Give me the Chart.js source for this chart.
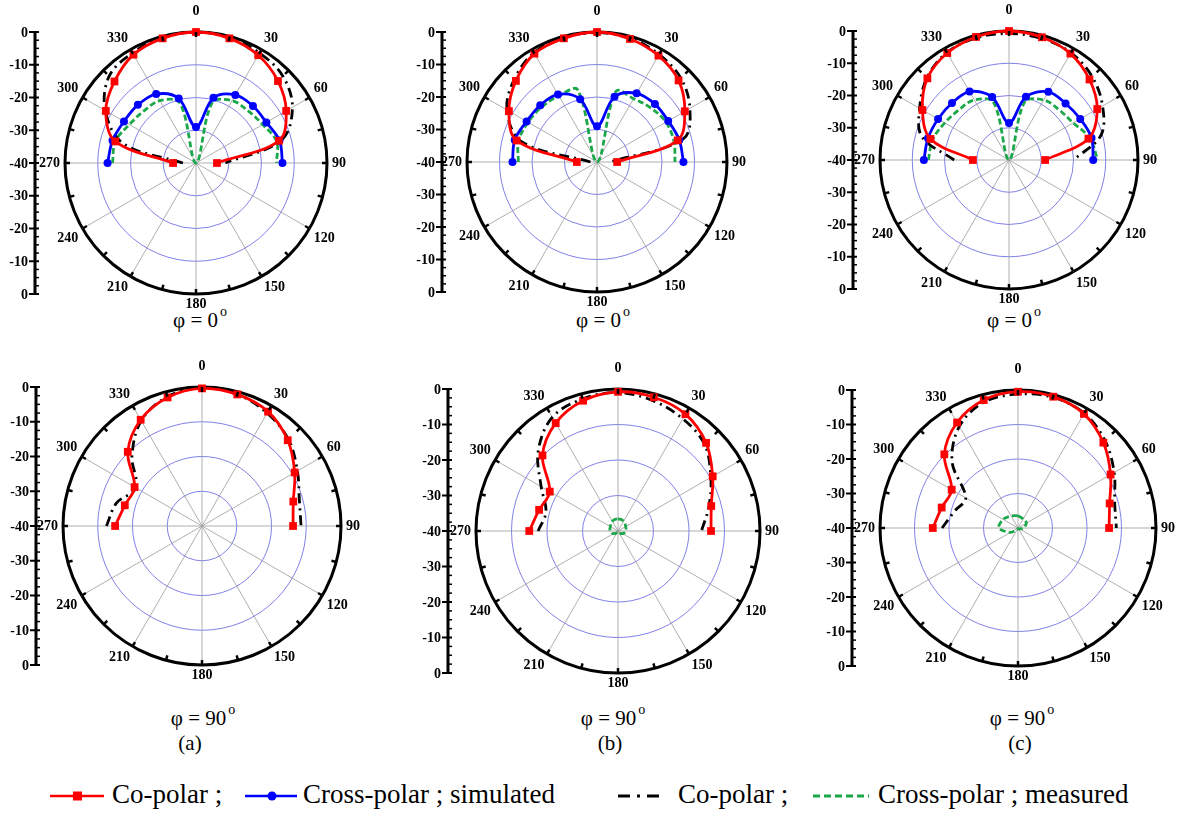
<!DOCTYPE html>
<html>
<head>
<meta charset="utf-8">
<title>Radiation patterns</title>
<script src="https://cdn.jsdelivr.net/npm/chart.js@4.4.1/dist/chart.umd.min.js"></script>
<style>
  body { margin: 0; background: #fff; }
  #wrap { position: relative; width: 1180px; height: 814px; overflow: hidden; font-family: "Liberation Serif", "Times New Roman", Times, serif; color: #000; }
  #wrap canvas { position: absolute; }
  .cap { position: absolute; font-size: 21px; line-height: 24px; transform: translateX(-50%); white-space: nowrap; }
  .cap sup { font-size: 14px; position: relative; top: -3px; margin-left: 2px; }
  .leg { position: absolute; top: 781px; font-size: 27px; line-height: 27px; white-space: nowrap; }
  .legsvg { position: absolute; top: 788px; }
</style>
</head>
<body>
<div id="wrap">
  <div class="cap" style="left:200px;top:303px">φ = 0<sup>o</sup></div>
  <div class="cap" style="left:603px;top:303px">φ = 0<sup>o</sup></div>
  <div class="cap" style="left:1014px;top:303px">φ = 0<sup>o</sup></div>
  <div class="cap" style="left:203px;top:701px">φ = 90<sup>o</sup></div>
  <div class="cap" style="left:613px;top:701px">φ = 90<sup>o</sup></div>
  <div class="cap" style="left:1022px;top:701px">φ = 90<sup>o</sup></div>
  <div class="cap" style="left:190px;top:731px">(a)</div>
  <div class="cap" style="left:610px;top:731px">(b)</div>
  <div class="cap" style="left:1020px;top:731px">(c)</div>

  <svg class="legsvg" style="left:50px" width="54" height="16"><line x1="0" y1="8" x2="54" y2="8" stroke="#ff0000" stroke-width="2.5"/><rect x="23" y="3.5" width="9" height="9" fill="#ff0000"/></svg>
  <div class="leg" style="left:112px">Co-polar ;</div>
  <svg class="legsvg" style="left:245px" width="52" height="16"><line x1="0" y1="8" x2="52" y2="8" stroke="#0000ff" stroke-width="2.5"/><circle cx="27" cy="8" r="4.5" fill="#0000ff"/></svg>
  <div class="leg" style="left:303px">Cross-polar ; simulated</div>
  <svg class="legsvg" style="left:618px" width="48" height="16"><line x1="0" y1="8" x2="48" y2="8" stroke="#000" stroke-width="3" stroke-dasharray="12,7,3,7"/></svg>
  <div class="leg" style="left:678px">Co-polar ;</div>
  <svg class="legsvg" style="left:813px" width="56" height="16"><line x1="0" y1="8" x2="56" y2="8" stroke="#1aa84a" stroke-width="3" stroke-dasharray="7,4"/></svg>
  <div class="leg" style="left:878px">Cross-polar ; measured</div>
</div>
<script>
// angular categories of the radar scale (degrees)
const angleLabels = [0, 15, 30, 45, 60, 75, 90, 105, 120, 135, 150, 165,
                     180, 195, 210, 225, 240, 255, 270, 285, 300, 315, 330, 345];
// front half (270 -> 0 -> 90) used by most curves
const frontAngles = [270, 285, 300, 315, 330, 345, 0, 15, 30, 45, 60, 75, 90];
// full turn for the small measured cross-polar loops
const loopAngles = [0, 30, 60, 90, 120, 150, 180, 210, 240, 270, 300, 330];
const axisTicks = [0, -10, -20, -30, -40];

// (a) phi = 0
const coSimA0   = [-33, -14.5, -8.2, -4.8, -1.8, -0.6, 0, -0.6, -2, -4.6, -8.2, -13.8, -33.6];
const coMeasA0  = [-36, -17, -8, -2.5, -1.2, -0.3, 0, -0.3, -1.2, -2.5, -6, -13, -31];
const xSimA0    = [-13, -13.6, -14.6, -14.9, -15.7, -19.6, -29, -19.4, -16, -15.4, -15.2, -13.6, -13.6];
const xMeasA0   = [-14.5, -14.5, -16.5, -17.5, -18, -21, -40, -21, -18, -17.5, -16.5, -14.5, -15.4];
// (b) phi = 0
const coSimB0   = [-33.8, -14.4, -8.7, -4.7, -1.5, -0.6, 0, -0.8, -2.2, -4.5, -8.8, -14.3, -33.8];
const coMeasB0  = [-38, -16, -8, -4, -1.2, -0.4, -0.2, -0.6, -1.8, -3.5, -7, -12.5, -36];
const xSimB0    = [-14, -13.8, -15, -15.3, -16, -20, -29, -19.2, -15.6, -14.8, -14.7, -13.8, -13.4];
const xMeasB0   = [-15.8, -15, -15.5, -16, -16.5, -17, -40, -17.5, -17.5, -16.5, -15.5, -15.5, -16];
// (c) phi = 0
const coSimC0   = [-28.8, -14.8, -9, -4.2, -1.7, -0.5, 0, -0.6, -1.9, -4.7, -8.4, -14.5, -28.8];
const coMeasC0  = [-23, -12, -8, -4, -1.5, -0.8, -0.8, -1, -1.6, -3.5, -6.5, -10.5, -20];
const xSimC0    = [-13.6, -14, -14.6, -15, -15.5, -19.8, -28.5, -19.7, -15.6, -15.2, -14.5, -13.5, -13.9];
const xMeasC0   = [-15, -15.5, -17, -18, -18.5, -21.5, -40, -21.5, -18.5, -18, -17, -14, -12.5];
// (a) phi = 90
const coSimA90  = [-15, -17, -17.6, -9.8, -4.7, -1.7, -0.4, -0.8, -2, -5.1, -9.2, -12.8, -13.8];
const coMeasA90 = [-12.5, -14.5, -18, -11.5, -5, -1.5, -0.3, -0.8, -2.5, -4.8, -8.3, -11, -11.5];
// (b) phi = 90
const coSimB90  = [-15, -17, -17.8, -9.9, -4.9, -2, -0.8, -1, -2, -4.9, -9.2, -12.8, -13.8];
const coMeasB90 = [-17.5, -19, -15, -8.2, -3, -1.5, -1, -2, -3.5, -5.5, -9.8, -13.5, -16.5];
const xMeasB90  = [-36.6, -36.8, -37.5, -37.8, -38.5, -39.5, -39.8, -39.5, -38.5, -37.8, -37.5, -36.8];
// (c) phi = 90
const coSimC90  = [-15.3, -17.1, -17.8, -9.8, -4.7, -1.6, -0.5, -0.6, -1.8, -5, -9, -12.5, -13.6];
const coMeasC90 = [-18, -21, -22.5, -13, -6, -2.2, -1.2, -0.8, -1.6, -4.3, -7.8, -11, -11.5];
const xMeasC90  = [-36.5, -37, -37.2, -38.5, -39.5, -39.8, -39.8, -39.5, -37.5, -34.5, -35, -36];

// spread a partial series onto the radar categories (null where not measured)
function toRadar(angles, values) {
  return angleLabels.map(a => {
    const k = angles.indexOf(a);
    return k < 0 ? null : values[k];
  });
}

const coSim = (data) => ({
  data: toRadar(frontAngles, data), borderColor: '#ff0000', pointBackgroundColor: '#ff0000',
  pointBorderWidth: 0, pointStyle: 'rect', pointRadius: 5.5, borderWidth: 2.8, tension: 0.35
});
const xSim = (data) => ({
  data: toRadar(frontAngles, data), borderColor: '#0000ff', pointBackgroundColor: '#0000ff',
  pointBorderWidth: 0, pointStyle: 'circle', pointRadius: 4, borderWidth: 2.8, tension: 0.35
});
const coMeas = (data) => ({
  data: toRadar(frontAngles, data), borderColor: '#000', borderDash: [10, 5, 2, 5],
  pointRadius: 0, borderWidth: 2.8, tension: 0.35
});
const xMeas = (data, angles) => ({
  data: toRadar(angles || frontAngles, data), borderColor: '#1aa84a', borderDash: [6, 3],
  pointRadius: 0, borderWidth: 2.8, tension: 0.35, spanGaps: !!angles
});

// axis box, angle labels and rim ticks around the radial scale
const decor = {
  id: 'decor',
  afterDatasetsDraw(chart, args, opts) {
    const r = chart.scales.r;
    const ctx = chart.ctx;
    const cx = r.xCenter, cy = r.yCenter, R = r.drawingArea;
    ctx.save();
    ctx.strokeStyle = '#000';
    ctx.lineWidth = 2.5;
    angleLabels.forEach((deg, i) => {
      const a = r.getPointPosition(i, R - 5);
      const b = r.getPointPosition(i, R);
      ctx.beginPath(); ctx.moveTo(a.x, a.y); ctx.lineTo(b.x, b.y); ctx.stroke();
    });

    ctx.fillStyle = '#000';
    ctx.font = 'bold 14px "Liberation Serif", "Times New Roman", serif';
    angleLabels.forEach((deg, i) => {
      if (deg % 30) return;
      const pad = deg === 0 ? 14 : deg === 180 ? 3 : 5;
      const p = r.getPointPosition(i, R + pad);
      ctx.textAlign = (deg === 0 || deg === 180) ? 'center' : deg < 180 ? 'left' : 'right';
      ctx.textBaseline = (deg === 90 || deg === 270) ? 'middle' : (deg < 90 || deg > 270) ? 'bottom' : 'top';
      ctx.fillText(String(deg), p.x, p.y);
    });

    // left dB axis, mirrored about the centre
    const ax = cx - opts.axisGap;
    const yOf = (v, lower) => cy + (lower ? 1 : -1) * r.getDistanceFromCenterForValue(v);
    ctx.lineWidth = 3;
    ctx.beginPath(); ctx.moveTo(ax, yOf(0, false) - 1); ctx.lineTo(ax, yOf(0, true) + 1); ctx.stroke();
    ctx.lineWidth = 1.5;
    for (let v = -40; v <= 0; v += 2.5) {
      if (v % 10 === 0) continue;
      [false, true].forEach(lower => {
        const y = yOf(v, lower);
        ctx.beginPath(); ctx.moveTo(ax, y); ctx.lineTo(ax + 4, y); ctx.stroke();
      });
    }
    ctx.lineWidth = 2;
    ctx.textAlign = 'right';
    ctx.textBaseline = 'middle';
    axisTicks.forEach(v => {
      [false, true].forEach(lower => {
        if (lower && v === -40) return;
        const y = yOf(v, lower);
        ctx.beginPath(); ctx.moveTo(ax - 6, y); ctx.lineTo(ax + 4, y); ctx.stroke();
        ctx.fillText(String(v), ax - 7, y + 1);
      });
    });
    ctx.restore();
  }
};

const panels = [
  { cx: 196,  cy: 163, R: 131, axisGap: 161, sets: [coSim(coSimA0), xSim(xSimA0), coMeas(coMeasA0), xMeas(xMeasA0)] },
  { cx: 597,  cy: 162, R: 130, axisGap: 155, sets: [coSim(coSimB0), xSim(xSimB0), coMeas(coMeasB0), xMeas(xMeasB0)] },
  { cx: 1009, cy: 160, R: 129, axisGap: 156, sets: [coSim(coSimC0), xSim(xSimC0), coMeas(coMeasC0), xMeas(xMeasC0)] },
  { cx: 202,  cy: 526, R: 139, axisGap: 166, sets: [coSim(coSimA90), coMeas(coMeasA90)] },
  { cx: 618,  cy: 531, R: 142, axisGap: 170, sets: [coSim(coSimB90), coMeas(coMeasB90), xMeas(xMeasB90, loopAngles)] },
  { cx: 1018, cy: 528, R: 138, axisGap: 166, sets: [coSim(coSimC90), coMeas(coMeasC90), xMeas(xMeasC90, loopAngles)] }
];

const wrap = document.getElementById('wrap');
panels.forEach(p => {
  const padL = p.axisGap - p.R + 40, padT = 32, padR = 40, padB = 26;
  const canvas = document.createElement('canvas');
  const w = padL + 2 * p.R + padR, h = padT + 2 * p.R + padB;
  canvas.width = w; canvas.height = h;
  canvas.style.width = w + 'px'; canvas.style.height = h + 'px';
  canvas.style.left = (p.cx - p.R - padL) + 'px';
  canvas.style.top = (p.cy - p.R - padT) + 'px';
  wrap.appendChild(canvas);

  new Chart(canvas.getContext('2d'), {
    type: 'radar',
    data: {
      labels: angleLabels,
      datasets: p.sets.map(s => Object.assign({ fill: false, clip: false }, s))
    },
    options: {
      responsive: false,
      animation: false,
      events: [],
      layout: { padding: { left: padL, top: padT, right: padR, bottom: padB } },
      plugins: { legend: { display: false }, tooltip: { enabled: false }, decor: { axisGap: p.axisGap } },
      scales: {
        r: {
          min: -40,
          max: 0,
          startAngle: 0,
          ticks: { display: false, stepSize: 10 },
          pointLabels: { display: false },
          grid: {
            circular: true,
            color: c => (c.tick && c.tick.value === 0 ? '#000' : '#4a4adc'),
            lineWidth: c => (c.tick && c.tick.value === 0 ? 3 : 0.7)
          },
          angleLines: {
            color: '#9a9a9a',
            lineWidth: c => (angleLabels[c.index] % 30 === 0 ? 0.8 : 0)
          }
        }
      }
    },
    plugins: [decor]
  });
});
</script>
</body>
</html>
